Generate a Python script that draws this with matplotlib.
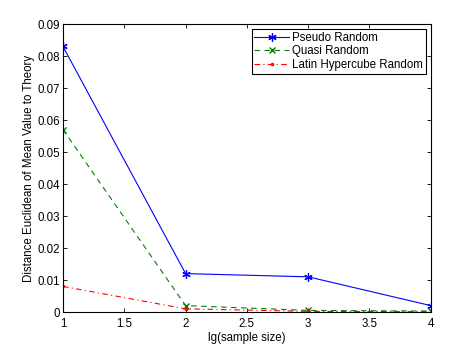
import numpy as np
import matplotlib.pyplot as plt

x = [1, 2, 3, 4]
pseudo = [0.083, 0.012, 0.011, 0.002]
quasi = [0.057, 0.002, 0.0005, 0.0003]
latin = [0.008, 0.001, 0.0002, 0.0001]

plt.rcParams['font.family'] = ['Liberation Sans', 'DejaVu Sans']
plt.rcParams['font.size'] = 8.3

fig = plt.figure(figsize=(4.53, 3.52), dpi=100)
ax = fig.add_axes([0.139, 0.1136, 0.812, 0.818])

ax.plot(x, pseudo, '-', color='blue', marker=(6, 2, 0), markersize=6, markeredgewidth=0.9,
        linewidth=0.8, label='Pseudo Random')
ax.plot(x, quasi, color='green', linestyle=(0, (5, 4)), marker='x', markersize=4, linewidth=0.8,
        label='Quasi Random')
ax.plot(x, latin, color='red', linestyle=(0, (5, 3, 1, 3)), marker='.', markersize=3, linewidth=0.8,
        label='Latin Hypercube Random')

ax.set_xlim(1, 4)
ax.set_ylim(0, 0.09)
ax.set_xticks([1, 1.5, 2, 2.5, 3, 3.5, 4])
ax.set_xticklabels(['1', '1.5', '2', '2.5', '3', '3.5', '4'])
ax.set_yticks(np.arange(0, 0.091, 0.01))
ax.set_yticklabels(['0', '0.01', '0.02', '0.03', '0.04', '0.05', '0.06', '0.07', '0.08', '0.09'])
ax.tick_params(direction='in', top=True, right=True, length=3, width=0.6, pad=2)
ax.tick_params(axis='x', pad=4)
for s in ax.spines.values():
    s.set_linewidth(0.8)

ax.set_xlabel('lg(sample size)', labelpad=2)
ax.set_ylabel('Distance Euclidean of Mean Value to Theory', labelpad=2)

leg = ax.legend(loc='upper right', fancybox=False, edgecolor='black', framealpha=1,
                borderaxespad=0.4, handlelength=3.0, borderpad=0.25, labelspacing=0.15,
                handletextpad=0.3, numpoints=1)
leg.get_frame().set_linewidth(0.8)

fig.savefig('out.png', dpi=100)
